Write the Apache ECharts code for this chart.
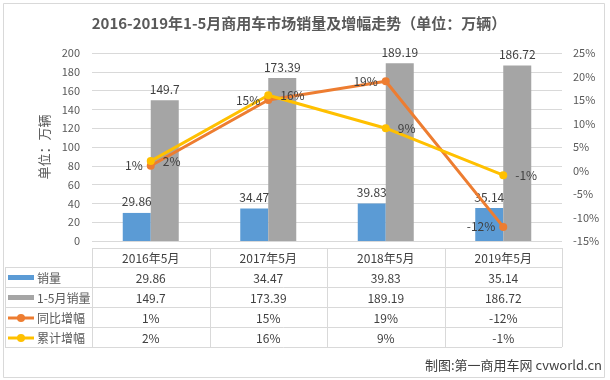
<!DOCTYPE html>
<html><head><meta charset="utf-8">
<script src="https://cdn.jsdelivr.net/npm/echarts@6/dist/echarts.min.js"></script>
<style>html,body{margin:0;padding:0;background:#fff}#c{width:610px;height:380px}</style>
</head><body><div id="c"></div>
<script>
var categories = ['2016年5月', '2017年5月', '2018年5月', '2019年5月'];
var monthSales = [29.86, 34.47, 39.83, 35.14];
var ytdSales = [149.7, 173.39, 189.19, 186.72];
var yoyGrowth = [1, 15, 19, -12];
var ytdGrowth = [2, 16, 9, -1];
var seriesNames = ['销量', '1-5月销量', '同比增幅', '累计增幅'];
var leftTicks = [0, 200, 20];
var rightTicks = [-15, 25, 5];

var FONT = '"Noto Sans CJK SC", sans-serif';
var TXT = '#595959';
var colors = ['#5B9BD5', '#A5A5A5', '#ED7D31', '#FFC000'];
var G = {left: 92, right: 562, top: 53, bottom: 241};

var chart = echarts.init(document.getElementById('c'));

function pct(p) { return p.value + '%'; }

var g = [];
var colW = (G.right - G.left) / categories.length;
var rowTop = [248, 267, 287, 307, 327, 347];
var lineColor = '#D9D9D9';
function hline(x1, x2, y) { g.push({type: 'line', shape: {x1: x1, y1: y + 0.5, x2: x2, y2: y + 0.5}, style: {stroke: lineColor, lineWidth: 1}, silent: true}); }
function vline(x, y1, y2) { g.push({type: 'line', shape: {x1: x + 0.5, y1: y1, x2: x + 0.5, y2: y2}, style: {stroke: lineColor, lineWidth: 1}, silent: true}); }
g.push({type: 'rect', shape: {x: 3.5, y: 3.5, width: 601, height: 374}, style: {fill: 'none', stroke: '#D9D9D9', lineWidth: 1}, silent: true});
hline(G.left, G.right, rowTop[0]);
for (var r = 1; r < rowTop.length; r++) hline(5, G.right, rowTop[r]);
vline(5, rowTop[1], rowTop[5]);
for (var c = 0; c <= categories.length; c++) vline(Math.round(G.left + c * colW), rowTop[0], rowTop[5]);
function cellText(txt, cx, cy, align) {
  g.push({type: 'text', x: cx, y: cy, style: {text: txt, fill: '#404040', font: '12px ' + FONT, textAlign: align || 'center', textVerticalAlign: 'middle'}, silent: true});
}
categories.forEach(function (cat, i) { cellText(cat, G.left + (i + 0.5) * colW, (rowTop[0] + rowTop[1]) / 2 + 1); });
var rows = [monthSales, ytdSales, yoyGrowth, ytdGrowth];
rows.forEach(function (arr, r) {
  var cy = (rowTop[r + 1] + rowTop[r + 2]) / 2 + 1;
  arr.forEach(function (v, i) { cellText(r >= 2 ? v + '%' : String(v), G.left + (i + 0.5) * colW, cy); });
  if (r < 2) {
    g.push({type: 'rect', shape: {x: 8, y: cy - 3, width: 26, height: 5}, style: {fill: colors[r]}, silent: true});
  } else {
    g.push({type: 'line', shape: {x1: 8, y1: cy, x2: 34, y2: cy}, style: {stroke: colors[r], lineWidth: 3}, silent: true});
    g.push({type: 'circle', shape: {cx: 21, cy: cy, r: 4}, style: {fill: colors[r]}, silent: true});
  }
  g.push({type: 'text', x: 37, y: cy, style: {text: seriesNames[r], fill: TXT, font: '12px ' + FONT, textAlign: 'left', textVerticalAlign: 'middle'}, silent: true});
});
g.push({type: 'text', x: 602, y: 365, style: {text: '制图:第一商用车网 cvworld.cn', fill: '#404040', font: '13px ' + FONT, textAlign: 'right', textVerticalAlign: 'middle'}, silent: true});
g.push({type: 'text', x: 299, y: 23, style: {text: '2016-2019年1-5月商用车市场销量及增幅走势（单位：万辆）', fill: TXT, font: 'bold 15px ' + FONT, textAlign: 'center', textVerticalAlign: 'middle'}, silent: true});

chart.setOption({
  animation: false,
  backgroundColor: '#fff',
  grid: {left: G.left, right: 610 - G.right, top: G.top, bottom: 380 - G.bottom},
  xAxis: {type: 'category', data: categories, axisLine: {show: false}, axisTick: {show: false}, axisLabel: {show: false}},
  yAxis: [
    {type: 'value', min: leftTicks[0], max: leftTicks[1], interval: leftTicks[2],
      name: '单位：万辆', nameLocation: 'middle', nameGap: 40, nameRotate: 90,
      nameTextStyle: {fontFamily: FONT, fontSize: 13, color: TXT},
      axisLabel: {fontFamily: FONT, fontSize: 11, color: TXT, margin: 12},
      axisLine: {show: false}, axisTick: {show: false},
      splitLine: {lineStyle: {color: '#D9D9D9'}}},
    {type: 'value', min: rightTicks[0], max: rightTicks[1], interval: rightTicks[2],
      axisLabel: {fontFamily: FONT, fontSize: 11, color: TXT, margin: 11, formatter: '{value}%'},
      axisLine: {show: false}, axisTick: {show: false}, splitLine: {show: false}}
  ],
  series: [
    {name: seriesNames[0], type: 'bar', data: monthSales, barWidth: 28, barGap: '0%', itemStyle: {color: colors[0]},
      label: {show: true, position: 'top', distance: 5, fontFamily: FONT, fontSize: 12, color: '#404040'}},
    {name: seriesNames[1], type: 'bar', data: ytdSales, barWidth: 28, barGap: '0%', itemStyle: {color: colors[1]},
      label: {show: true, position: 'top', distance: 5, fontFamily: FONT, fontSize: 12, color: '#404040'}},
    {name: seriesNames[2], type: 'line', yAxisIndex: 1, data: yoyGrowth, symbol: 'circle', symbolSize: 8,
      lineStyle: {width: 3, color: colors[2]}, itemStyle: {color: colors[2]},
      label: {show: true, position: 'left', distance: 4, formatter: pct, fontFamily: FONT, fontSize: 12, color: '#404040'}},
    {name: seriesNames[3], type: 'line', yAxisIndex: 1, data: ytdGrowth, symbol: 'circle', symbolSize: 8,
      lineStyle: {width: 3, color: colors[3]}, itemStyle: {color: colors[3]},
      label: {show: true, position: 'right', distance: 8, formatter: pct, fontFamily: FONT, fontSize: 12, color: '#404040'}}
  ],
  graphic: g
});
</script></body></html>
